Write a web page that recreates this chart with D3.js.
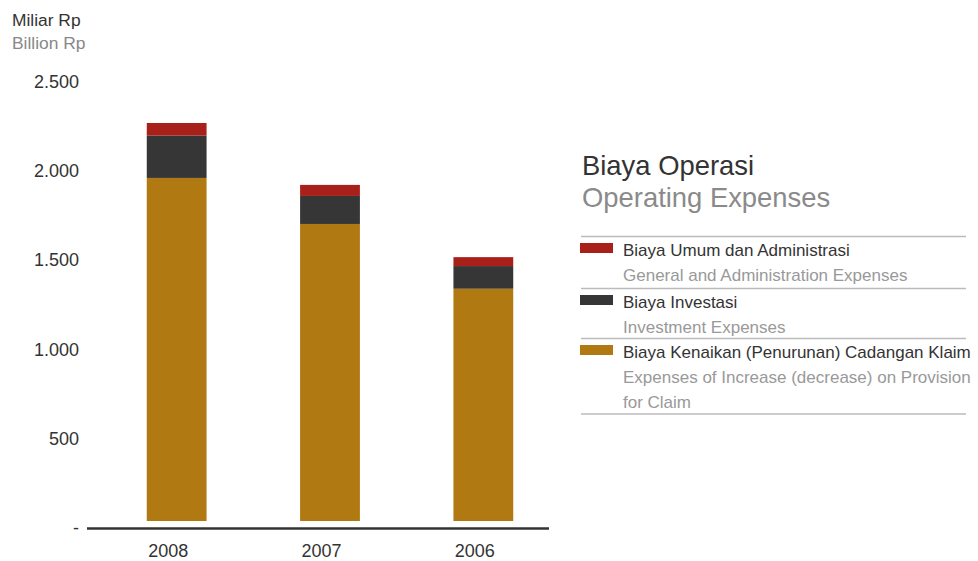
<!DOCTYPE html>
<html>
<head>
<meta charset="utf-8">
<script src="https://cdn.jsdelivr.net/npm/d3@7"></script>
<style>
  body { margin: 0; background: #fff; }
  svg { font-family: "Liberation Sans", Arial, sans-serif; }
</style>
</head>
<body>
<svg id="chart"></svg>
<script>
const years = ['2008', '2007', '2006'];
const claimReserve = [1923, 1665, 1302];
const investment = [237, 157, 127];
const generalAdmin = [71, 62, 50];
const yTicks = [0, 500, 1000, 1500, 2000, 2500];

const seriesKeys = ['claim', 'invest', 'admin'];
const seriesColor = { claim: '#b07912', invest: '#363636', admin: '#a8201a' };

const legendItems = [
  { key: 'admin', id: 'Biaya Umum dan Administrasi', en: ['General and Administration Expenses'] },
  { key: 'invest', id: 'Biaya Investasi', en: ['Investment Expenses'] },
  { key: 'claim', id: 'Biaya Kenaikan (Penurunan) Cadangan Klaim', en: ['Expenses of Increase (decrease) on Provision', 'for Claim'] }
];

const w = 978;
const h = 561;

const table = years.map((yr, i) => ({
  year: yr,
  claim: claimReserve[i],
  invest: investment[i],
  admin: generalAdmin[i]
}));

const svg = d3.select('#chart').attr('width', w).attr('height', h);

const x = d3.scaleBand()
  .domain(years)
  .range([100, 560])
  .paddingInner(0.61)
  .paddingOuter(0.305);

const y = d3.scaleLinear()
  .domain([0, 2500])
  .range([521, 75]);

const stack = d3.stack().keys(seriesKeys)(table);

// units
svg.append('text').attr('x', 12).attr('y', 20).attr('dominant-baseline', 'central')
  .style('font-size', '17.4px').style('fill', '#333').text('Miliar Rp');
svg.append('text').attr('x', 12).attr('y', 43).attr('dominant-baseline', 'central')
  .style('font-size', '17.4px').style('fill', '#888').text('Billion Rp');

// y tick labels (no visible axis line)
const fmt = d3.formatLocale({ decimal: ',', thousands: '.', grouping: [3], currency: ['Rp', ''] }).format(',');
svg.append('g').selectAll('text').data(yTicks).enter().append('text')
  .attr('x', 79)
  .attr('y', (d) => y(d) + 7)
  .attr('text-anchor', 'end')
  .attr('dominant-baseline', 'central')
  .style('font-size', '18px')
  .style('fill', '#333')
  .text((d) => (d === 0 ? '-' : fmt(d)));

// bars
svg.append('g').selectAll('g').data(stack).enter().append('g')
  .attr('fill', (s) => seriesColor[s.key])
  .selectAll('rect').data((s) => s).enter().append('rect')
  .attr('x', (d) => x(d.data.year))
  .attr('width', x.bandwidth())
  .attr('y', (d) => y(d[1]))
  .attr('height', (d) => y(d[0]) - y(d[1]));

// x axis
svg.append('line')
  .attr('x1', 87).attr('x2', 549)
  .attr('y1', 528.5).attr('y2', 528.5)
  .attr('stroke', '#333').attr('stroke-width', 2.5);

// year labels sit a little left of the bar centres in the original
svg.append('g').selectAll('text').data(years).enter().append('text')
  .attr('x', (d) => x(d) + x.bandwidth() / 2 - 8.5)
  .attr('y', 551)
  .attr('text-anchor', 'middle')
  .attr('dominant-baseline', 'central')
  .style('font-size', '18px')
  .style('fill', '#333')
  .text((d) => d);

// title
svg.append('text').attr('x', 582).attr('y', 165).attr('dominant-baseline', 'central')
  .style('font-size', '27.4px').style('fill', '#333').text('Biaya Operasi');
svg.append('text').attr('x', 582).attr('y', 197).attr('dominant-baseline', 'central')
  .style('font-size', '27.4px').style('fill', '#8a8a8a').text('Operating Expenses');

// legend
const lg = svg.append('g');
const rowTop = [236.5, 288.5, 338.5];
const sepYs = [236.5, 288.5, 338.5, 414];
lg.selectAll('line').data(sepYs).enter().append('line')
  .attr('x1', 581).attr('x2', 966)
  .attr('y1', (d) => d).attr('y2', (d) => d)
  .attr('stroke', '#bbb').attr('stroke-width', 1.5);

legendItems.forEach((item, i) => {
  const top = rowTop[i];
  lg.append('rect')
    .attr('x', 580).attr('y', top + 6.5)
    .attr('width', 33).attr('height', 10)
    .attr('fill', seriesColor[item.key]);
  lg.append('text')
    .attr('x', 623).attr('y', top + 14)
    .attr('dominant-baseline', 'central')
    .style('font-size', '17px').style('fill', '#333')
    .text(item.id);
  item.en.forEach((line, j) => {
    lg.append('text')
      .attr('x', 623).attr('y', top + 39 + j * 25)
      .attr('dominant-baseline', 'central')
      .style('font-size', '17px').style('fill', '#999')
      .text(line);
  });
});
</script>
</body>
</html>
